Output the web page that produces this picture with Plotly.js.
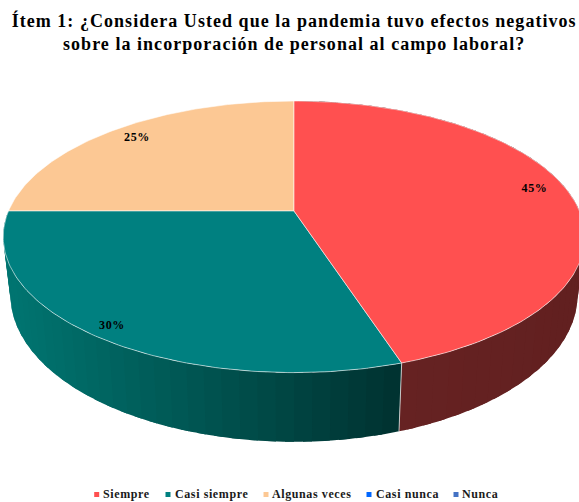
<!DOCTYPE html>
<html><head><meta charset="utf-8">
<script src="https://cdn.plot.ly/plotly-3.0.1.min.js"></script>
<style>html,body{margin:0;padding:0;background:#fff;overflow:hidden}
.gtitle{letter-spacing:1.04px}
.textpoint text{letter-spacing:.6px}</style></head>
<body><div id="chart" style="width:579px;height:502px"></div>
<script>
const categories = ["Siempre","Casi siempre","Algunas veces","Casi nunca","Nunca"];
const percentValues = [45,30,25,0,0];
const sliceColors = ["#ff5050","#008080","#fcc894","#0066ff","#4472c4"];
const wallLeftRight = {0:[[102,34,34],[98,32,32]],1:[[0,116,112],[0,50,48]]};

// pictorial geometry of the tilted disc
const C = {cx:294, cy:211, R:285.5, kR:130.9, p:0.19, depth:56, shrink:0.975};
const font = "'Liberation Serif','Times New Roman',serif";

function rim(deg, lower){
  const t = deg*Math.PI/180, u = Math.sin(t), v = -Math.cos(t), f = 1/(1-C.p*v);
  const s = lower ? C.shrink : 1;
  return [C.cx + C.R*u*f*s, C.cy + C.kR*v*f + (lower ? C.depth*f : 0)];
}
function arc(a,b,lower){
  const n = Math.max(2,Math.ceil(Math.abs(b-a)/1)), pts=[];
  for(let i=0;i<=n;i++) pts.push(rim(a+(b-a)*i/n,lower));
  return pts;
}
const traces = [];
function poly(pts,color,lineColor,w){
  traces.push({type:"scatter",mode:lineColor?"lines":"none",x:pts.map(p=>p[0]),y:pts.map(p=>p[1]),
    fill:"toself",fillcolor:color,line:{color:lineColor||color,width:w||0},hoverinfo:"skip",showlegend:false});
}
let acc = 0; const spans = percentValues.map(v=>{const s=[acc*3.6,(acc+v)*3.6];acc+=v;return s;});

// side walls: painted strip by strip, shaded left-to-right
[0,1].forEach(i=>{
  const [a,b] = spans[i], step = 3;
  const xL = 12, xR = 400;
  for(let d=a; d<b; d+=step){
    const e = Math.min(d+step+1.5,b);
    const top = arc(d,e,false), bot = arc(d,e,true).reverse();
    const xm = (rim(d,false)[0]+rim(Math.min(d+step,b),false)[0])/2;
    let t;
    if(i===1) t = Math.min(1,Math.max(0,(xm-xL)/(xR-xL)));
    else t = Math.min(1,Math.max(0,(xm-400)/180));
    const [c0,c1] = wallLeftRight[i];
    const c = c0.map((q,k)=>Math.round(q+(c1[k]-q)*t));
    poly(top.concat(bot),`rgb(${c})`);
  }
});
// wall seam
traces.push({type:"scatter",mode:"lines",x:[rim(spans[0][1],false)[0],rim(spans[0][1],true)[0]],
  y:[rim(spans[0][1],false)[1],rim(spans[0][1],true)[1]],line:{color:"rgba(225,225,225,0.8)",width:1},hoverinfo:"skip",showlegend:false});
// top faces
[2,1,0].forEach(i=>{
  const pts=[[C.cx,C.cy]].concat(arc(spans[i][0],spans[i][1],false)); pts.push([C.cx,C.cy]);
  poly(pts,sliceColors[i],"rgba(255,255,255,0.7)",0.8);
});
// value labels
const labelX=[534.5,112,137], labelY=[189,326,138];
traces.push({type:"scatter",mode:"text",x:labelX,y:labelY,
  text:percentValues.slice(0,3).map(v=>v+"%"),textposition:"middle center",
  textfont:{family:font,size:12,color:"#000",weight:700},hoverinfo:"skip",showlegend:false});
// legend row
const legendMarkX=[96.7,168,266,369,456];
const legendTextX=[103,175,272,376,462];
categories.forEach((c,i)=>{
  traces.push({type:"scatter",mode:"markers",x:[legendMarkX[i]],y:[494.5],
    marker:{symbol:"square",size:5,color:sliceColors[i]},hoverinfo:"skip",showlegend:false,cliponaxis:false});
});
traces.push({type:"scatter",mode:"text",x:legendTextX,y:legendTextX.map(()=>494.5),text:categories,textposition:"middle right",
  textfont:{family:font,size:12,color:"#1a1a1a",weight:700},hoverinfo:"skip",showlegend:false,cliponaxis:false});
const layout = {
  width:579,height:502,margin:{l:0,r:0,t:0,b:0},paper_bgcolor:"#fff",plot_bgcolor:"#fff",showlegend:false,
  title:{text:"<b>Ítem 1: ¿Considera Usted que la pandemia tuvo efectos negativos<br>sobre la incorporación de personal al campo laboral?</b>",
    font:{family:font,size:18,color:"#000"},x:0.508,xanchor:"center",y:0.947,yanchor:"top"},
  xaxis:{range:[0,579],visible:false,fixedrange:true},
  yaxis:{range:[502,0],visible:false,fixedrange:true}
};
Plotly.newPlot("chart",traces,layout,{displayModeBar:false,staticPlot:true});
</script></body></html>
